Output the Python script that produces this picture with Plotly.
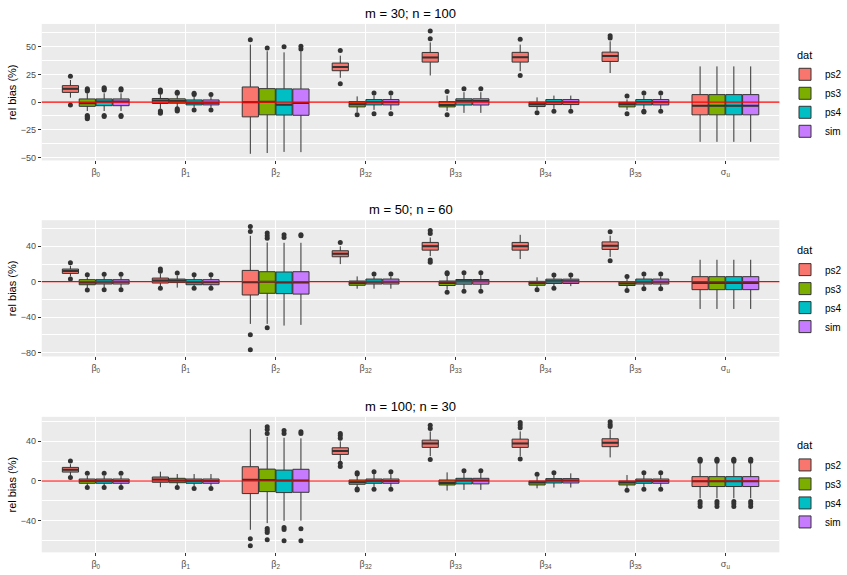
import plotly.graph_objects as go

# ---------------- data ----------------
CATS = ["β<sub>0</sub>", "β<sub>1</sub>", "β<sub>2</sub>", "β<sub>32</sub>",
        "β<sub>33</sub>", "β<sub>34</sub>", "β<sub>35</sub>", "σ<sub>u</sub>"]
SERIES = ["ps2", "ps3", "ps4", "sim"]
COLORS = {"ps2": "#F8766D", "ps3": "#7CAE00", "ps4": "#00BFC4", "sim": "#C77CFF"}
TITLES = ["m = 30; n = 100", "m = 50; n = 60", "m = 100; n = 30"]
LEGEND_TITLE = "dat"
Y_LABEL = "rel bias (%)"

# Panel 1: m = 30; n = 100
P1_Q1 = {"ps2": [8.8, -1.2, -13.3, 28.4, 36.2, 36.2, 36.8, -11.5],
         "ps3": [-3.8, -1.0, -11.5, -4.3, -4.3, -4.0, -4.3, -11.5],
         "ps4": [-3.2, -2.5, -11.7, -2.5, -2.6, -2.2, -2.5, -11.5],
         "sim": [-3.2, -2.5, -11.9, -2.5, -2.6, -2.2, -2.5, -11.5]}
P1_MED = {"ps2": [12.0, 1.5, 0.0, 31.7, 40.4, 40.5, 41.6, -3.2],
          "ps3": [-1.0, 1.0, 0.3, -2.0, -2.5, -2.0, -2.0, -3.2],
          "ps4": [0.5, -0.5, -2.3, 0.0, 1.0, 0.0, 0.0, -3.2],
          "sim": [0.5, -0.5, -0.7, 0.0, 1.0, 0.0, 0.0, -3.2]}
P1_Q3 = {"ps2": [14.9, 3.3, 13.7, 35.3, 44.9, 45.0, 45.2, 6.8],
         "ps3": [2.9, 3.0, 12.2, 0.5, 0.5, 0.0, -0.2, 6.8],
         "ps4": [2.9, 2.0, 12.0, 2.3, 3.0, 2.3, 2.3, 6.8],
         "sim": [2.9, 2.0, 11.9, 2.3, 3.0, 2.3, 2.3, 6.8]}
P1_LO = {"ps2": [4.0, -6.0, -46.7, 22.0, 24.1, 28.0, 26.3, -35.9],
         "ps3": [-8.0, -5.0, -46.0, -9.0, -8.0, -7.0, -7.0, -35.9],
         "ps4": [-8.0, -5.0, -45.0, -7.0, -9.7, -6.0, -6.0, -35.9],
         "sim": [-8.0, -5.0, -45.2, -7.0, -9.7, -6.0, -6.0, -35.9]}
P1_HI = {"ps2": [20.0, 7.0, 52.0, 42.0, 54.0, 52.0, 55.0, 32.3],
         "ps3": [8.0, 6.0, 46.0, 5.2, 6.0, 4.3, 2.5, 32.3],
         "ps4": [8.0, 5.0, 45.0, 6.0, 9.0, 5.9, 6.0, 32.3],
         "sim": [8.0, 5.0, 46.0, 6.0, 9.0, 5.9, 6.0, 32.3]}
P1_OUT = {"ps2": [[23.5, -2.5], [9, 10, 11, -8, -9, -10], [56.5], [46.7, 16.7], [57.2, 64.4], [56.8, 24.1], [58, 60], []],
          "ps3": [[10, 11, 12, -12, -13, -14, -15], [8, 9, -6, -7, -8], [49], [-11.5], [9.7, -11.5], [-9.7], [5.5, -10.4], []],
          "ps4": [[11, 12, 13, -12, -13], [7, 8, -7], [50], [8.3, -10.4], [12.2], [-8.3], [8.3, -8.3, -9], []],
          "sim": [[11, 12, -12, -13], [7, -7], [48, 50.5], [8.3, -10.4], [12.2], [-8.3], [8.3, -8.3], []]}

# Panel 2: m = 50; n = 60
P2_Q1 = {"ps2": [9.4, -1.5, -15.0, 28.2, 35.7, 35.7, 36.5, -9.0],
         "ps3": [-3.4, -1.0, -13.1, -4.0, -4.3, -4.0, -4.3, -9.0],
         "ps4": [-2.6, -3.4, -13.5, -2.6, -2.8, -2.0, -2.6, -9.0],
         "sim": [-2.6, -3.4, -14.0, -2.6, -2.8, -2.0, -2.6, -9.0]}
P2_MED = {"ps2": [12.0, 1.5, -0.7, 31.6, 40.2, 40.2, 40.6, -1.5],
          "ps3": [-1.0, 1.0, 0.0, -1.5, -1.5, -1.5, -2.0, -1.5],
          "ps4": [0.0, -0.5, -0.8, 0.0, 0.5, 0.5, 0.0, -1.5],
          "sim": [0.0, -0.5, -0.9, 0.0, 0.5, 0.5, 0.0, -1.5]}
P2_Q3 = {"ps2": [14.3, 4.1, 12.8, 35.0, 44.4, 44.4, 45.0, 5.7],
         "ps3": [2.3, 3.0, 11.3, 0.8, 0.8, 0.4, -0.2, 5.7],
         "ps4": [2.3, 2.3, 11.0, 3.0, 2.5, 2.9, 3.0, 5.7],
         "sim": [2.3, 2.3, 11.3, 3.0, 2.5, 2.9, 3.0, 5.7]}
P2_LO = {"ps2": [6.0, -5.0, -47.7, 19.9, 29.0, 25.6, 28.0, -30.8],
         "ps3": [-7.0, -6.7, -47.7, -7.9, -9.0, -7.0, -8.0, -30.8],
         "ps4": [-7.0, -6.0, -49.6, -7.9, -8.0, -6.0, -6.0, -30.8],
         "sim": [-7.0, -6.0, -48.8, -7.9, -8.0, -5.0, -6.0, -30.8]}
P2_HI = {"ps2": [18.0, 9.0, 51.9, 40.0, 50.0, 53.0, 52.0, 24.8],
         "ps3": [5.0, 7.0, 44.4, 6.0, 7.0, 5.0, 3.5, 24.8],
         "ps4": [6.0, 6.0, 44.0, 6.0, 7.5, 5.5, 6.0, 24.8],
         "sim": [6.0, 6.0, 44.0, 6.0, 7.5, 5.5, 6.0, 24.8]}
P2_OUT = {"ps2": [[21.4, 3.0], [14.3, 11.7, -7.5], [62.4, 56.8, -60, -77], [44.4], [58, 54.6, 24.5, 22], [], [56.4, 23.7], []],
          "ps3": [[7.9, -9.4], [9.8], [55, 52, 49, -52], [], [9, 10, -12], [-9], [6, -10], []],
          "ps4": [[8.3, -9], [8, -7.5], [53, 50], [8.7], [10, -10.8], [7.5, -7.5], [8.7, -8], []],
          "sim": [[8.3, -9], [8, -7.5], [51.9, 53], [8.7], [10, -10.8], [7.5], [8.7, -8], []]}

# Panel 3: m = 100; n = 30
P3_Q1 = {"ps2": [9.0, -1.3, -12.7, 26.8, 33.9, 33.9, 34.6, -5.6],
         "ps3": [-2.3, -1.7, -10.7, -3.3, -4.0, -4.0, -4.0, -5.6],
         "ps4": [-2.3, -2.3, -11.7, -2.3, -2.9, -2.0, -2.3, -5.6],
         "sim": [-2.3, -2.3, -11.4, -2.3, -2.9, -2.0, -2.3, -5.6]}
P3_MED = {"ps2": [11.4, 1.5, 1.3, 30.2, 37.9, 37.9, 38.6, -0.3],
          "ps3": [0.0, 0.5, 1.0, -1.0, -2.0, -1.5, -1.5, -0.3],
          "ps4": [0.0, 0.0, 0.4, 0.0, 0.5, 0.5, 0.0, -0.3],
          "sim": [0.0, 0.0, 0.4, 0.0, 0.5, 0.5, 0.0, -0.3]}
P3_Q3 = {"ps2": [13.7, 4.0, 14.4, 33.5, 41.2, 42.2, 42.6, 4.4],
         "ps3": [2.0, 2.7, 12.0, 1.0, 1.0, 0.0, 0.0, 4.4],
         "ps4": [2.0, 2.0, 11.0, 2.0, 2.7, 2.4, 2.0, 4.4],
         "sim": [2.0, 2.0, 11.8, 2.0, 2.7, 2.4, 2.0, 4.4]}
P3_LO = {"ps2": [6.0, -6.3, -49.2, 20.0, 25.0, 25.0, 23.8, -17.4],
         "ps3": [-5.0, -5.0, -42.5, -7.0, -9.7, -7.4, -7.0, -17.4],
         "ps4": [-5.0, -5.5, -40.2, -6.0, -9.0, -6.6, -6.0, -17.4],
         "sim": [-5.0, -5.5, -40.0, -6.0, -9.0, -6.6, -6.0, -17.4]}
P3_HI = {"ps2": [17.0, 9.4, 52.3, 40.0, 50.0, 50.0, 52.0, 17.8],
         "ps3": [5.0, 7.0, 44.6, 6.0, 8.7, 4.5, 6.0, 17.8],
         "ps4": [5.0, 7.0, 43.6, 7.0, 8.0, 6.0, 6.0, 17.8],
         "sim": [5.0, 7.0, 43.0, 7.0, 8.0, 7.7, 6.0, 17.8]}
P3_OUT = {"ps2": [[20.1, 3.4], [], [-58.3, -65.3], [48, 46, 43, 17.8, 14.5], [56.3, 53, 21.8], [59, 56.5, 53.6, 22.1], [59.7, 57, 55], [21.1, 20, 22, -20.7, -23, -25.7]],
          "ps3": [[7.7, -6.6], [-6.6], [54.6, 52, 48, -48, -50, -52, -59.3], [8.4, 7, -9, -8], [], [6.7], [-9.3], [21.1, 20, 22, -20.7, -23, -25.7]],
          "ps4": [[7.7, -6.6], [-7.6], [51, 48, -47, -49, -60.3], [9.4, -8.3], [10.4], [8.4], [8.4, -8.3], [21.1, 20, 22, -20.7, -23, -25.7]],
          "sim": [[7.7, -6.6], [-7.6], [49.6, 48, -48.2, -60.3], [9.4, -8.3], [10.4], [], [8.4, -8.3], [21.1, 20, 22, -20.7, -23, -25.7]]}

# axis settings per panel
Y_RANGES = [[-52.7, 70.7], [-84.5, 69.5], [-72.0, 64.7]]
Y_TICKS = [[-50, -25, 0, 25, 50], [-80, -40, 0, 40], [-40, 0, 40]]
Y_MINOR = [[-37.5, -12.5, 12.5, 37.5, 62.5], [-60, -20, 20, 60], [-60, -20, 20, 60]]

PANELS = [
    (P1_Q1, P1_MED, P1_Q3, P1_LO, P1_HI, P1_OUT),
    (P2_Q1, P2_MED, P2_Q3, P2_LO, P2_HI, P2_OUT),
    (P3_Q1, P3_MED, P3_Q3, P3_LO, P3_HI, P3_OUT),
]

# ---------------- layout geometry (pixels) ----------------
W, H = 847, 575
PLOT_L, PLOT_R = 42, 784
PANEL_PX = [(24, 161), (221, 357.7), (418.3, 554.3)]   # top, bottom
LEG_TITLE_Y = [55, 251, 447]

DODGE = 0.1875
BOXW = 0.18
FONT = "Liberation Sans"
GRID_BG = "#EBEBEB"
DARK = "#333333"

fig = go.Figure()
layout = dict(
    width=W, height=H, margin=dict(l=0, r=0, t=0, b=0),
    paper_bgcolor="white", plot_bgcolor=GRID_BG,
    font=dict(family=FONT, color="black"),
    boxmode="overlay", showlegend=True,
    annotations=[], shapes=[],
)

ncat = len(CATS)
cat_pos = list(range(1, ncat + 1))

for p, (Q1, MED, Q3, LO, HI, OUT) in enumerate(PANELS):
    sfx = "" if p == 0 else str(p + 1)
    xa, ya = "x" + sfx, "y" + sfx
    leg = "legend" + sfx
    top, bot = PANEL_PX[p]
    ydom = [1 - bot / H, 1 - top / H]
    xdom = [PLOT_L / W, PLOT_R / W]

    for si, s in enumerate(SERIES):
        off = (si - 1.5) * DODGE
        xs = [c + off for c in cat_pos]
        fig.add_trace(go.Box(
            x=xs, q1=Q1[s], median=MED[s], q3=Q3[s],
            lowerfence=LO[s], upperfence=HI[s],
            width=BOXW, whiskerwidth=0, boxpoints=False,
            fillcolor=COLORS[s], line=dict(color=DARK, width=1),
            name=s, legend=leg, legendgroup=s + sfx,
            xaxis=xa, yaxis=ya, hoverinfo="skip",
        ))
        # thick median lines (ggplot fatten)
        mx, my = [], []
        for xi, m in zip(xs, MED[s]):
            mx += [xi - BOXW / 2, xi + BOXW / 2, None]
            my += [m, m, None]
        fig.add_trace(go.Scatter(
            x=mx, y=my, mode="lines", line=dict(color=DARK, width=2),
            showlegend=False, xaxis=xa, yaxis=ya, hoverinfo="skip"))
        # outliers
        ox, oy = [], []
        for xi, outs in zip(xs, OUT[s]):
            ox += [xi] * len(outs)
            oy += list(outs)
        fig.add_trace(go.Scatter(
            x=ox, y=oy, mode="markers",
            marker=dict(color=DARK, size=5, line=dict(width=0)),
            showlegend=False, xaxis=xa, yaxis=ya, hoverinfo="skip"))

    layout["xaxis" + sfx] = dict(
        domain=xdom, anchor=ya, range=[0.4, ncat + 0.6],
        tickmode="array", tickvals=cat_pos, ticktext=CATS,
        showgrid=True, gridcolor="white", gridwidth=1.1, zeroline=False,
        ticks="outside", ticklen=3, tickcolor=DARK, tickwidth=1,
        tickfont=dict(family=FONT, size=9, color="#4D4D4D"),
        showline=False, fixedrange=True,
    )
    layout["yaxis" + sfx] = dict(
        domain=ydom, anchor=xa, range=Y_RANGES[p],
        tickmode="array", tickvals=Y_TICKS[p],
        ticktext=[("−" + str(abs(v))) if v < 0 else str(v) for v in Y_TICKS[p]],
        showgrid=True, gridcolor="white", gridwidth=1.1, zeroline=False,
        minor=dict(tickvals=Y_MINOR[p], showgrid=True, gridcolor="white", gridwidth=0.5, ticks=""),
        ticks="outside", ticklen=3, tickcolor=DARK, tickwidth=1,
        tickfont=dict(family=FONT, size=9, color="#4D4D4D"),
        showline=False, fixedrange=True,
    )
    layout[leg] = dict(
        x=790 / W, xanchor="left", y=1 - (LEG_TITLE_Y[p] + 5) / H, yanchor="top",
        font=dict(family=FONT, size=10, color="black"),
        bgcolor="rgba(0,0,0,0)", tracegroupgap=0,
    )
    # legend title
    layout["annotations"].append(dict(
        text=LEGEND_TITLE, xref="paper", yref="paper",
        x=800 / W, y=1 - LEG_TITLE_Y[p] / H,
        xanchor="left", yanchor="middle", showarrow=False,
        font=dict(family=FONT, size=11, color="black")))
    # panel title
    layout["annotations"].append(dict(
        text=TITLES[p], xref="paper", yref="paper",
        x=(PLOT_L + PLOT_R) / 2 / W, y=1 - (top - 4) / H,
        xanchor="center", yanchor="bottom", showarrow=False, yshift=-3,
        font=dict(family=FONT, size=13, color="black")))
    # y-axis title
    layout["annotations"].append(dict(
        text=Y_LABEL, xref="paper", yref="paper",
        x=12 / W, y=1 - (top + bot) / 2 / H, textangle=-90,
        xanchor="center", yanchor="middle", showarrow=False,
        font=dict(family=FONT, size=11, color="black")))
    # red reference line at 0
    layout["shapes"].append(dict(
        type="line", xref=xa + " domain", yref=ya, x0=0, x1=1, y0=0, y1=0,
        line=dict(color="#FF0000", width=1.2), layer="above"))

fig.update_layout(**layout)
fig.write_html("out.html")
